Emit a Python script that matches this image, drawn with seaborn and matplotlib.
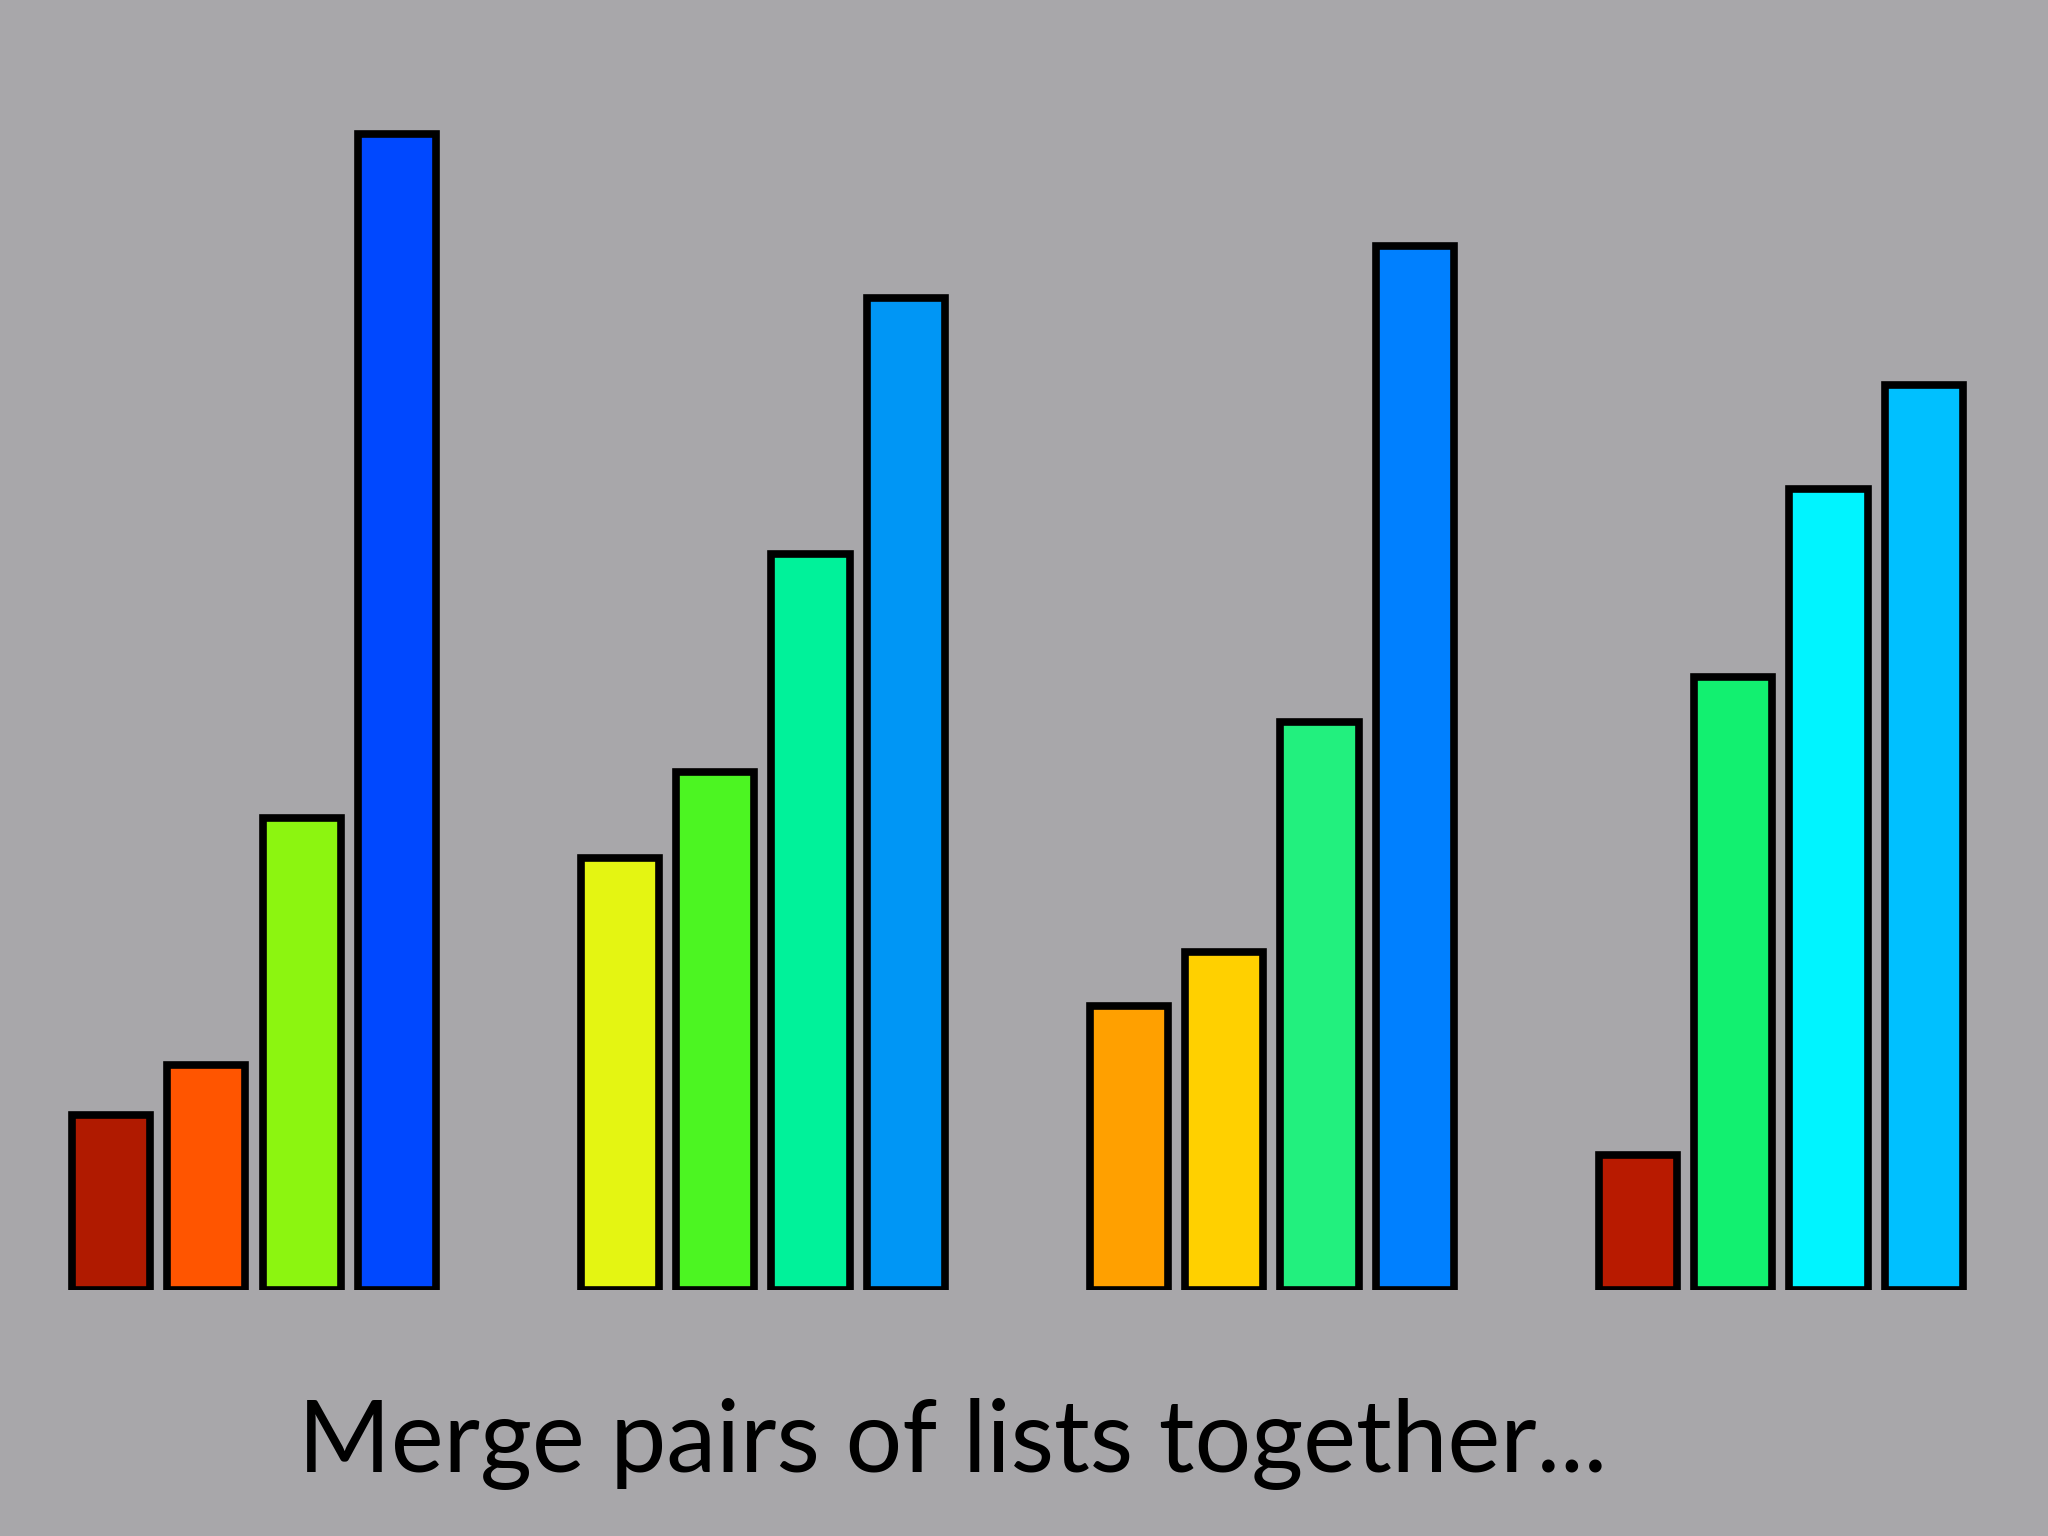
import pandas as pd
import numpy as np
import matplotlib
matplotlib.use("Agg")
import matplotlib.pyplot as plt
import seaborn as sns

# data (bar heights, arbitrary units)
groups = ["A", "B", "C", "D"]
slots = [1, 2, 3, 4]
group_a = [175, 225, 472, 1156]
group_b = [432, 518, 736, 992]
group_c = [284, 338, 568, 1044]
group_d = [135, 613, 801, 905]
caption = "Merge pairs of lists together..."

# one colour per bar, in group order
bar_colors = [
    "#B01A00", "#FF5500", "#8CF510", "#0048FF",
    "#E4F512", "#4CF522", "#00F29A", "#0096F5",
    "#FFA000", "#FFD000", "#22F07E", "#0080FF",
    "#B81A00", "#12F070", "#00F4FF", "#00C0FF",
]

rows = []
for g, vals in zip(groups, [group_a, group_b, group_c, group_d]):
    for s, v in zip(slots, vals):
        rows.append({"group": g, "slot": s, "value": v})
df = pd.DataFrame(rows)

bg = "#A8A7AA"
sns.set_style("white")
fig = plt.figure(figsize=(20.48, 15.36), dpi=100, facecolor=bg)
ax = fig.add_axes([0, 0.16, 1, 0.84])
ax.set_facecolor(bg)

sns.barplot(data=df, x="group", y="value", hue="slot", order=groups,
            width=0.75, gap=0.18, dodge=True, legend=False,
            edgecolor="black", linewidth=5.5, saturation=1, ax=ax)

# recolour bars individually (patches come hue by hue)
patches = [p for p in ax.patches if p.get_height() > 0]
patches = sorted(patches, key=lambda p: p.get_x())
for p, c in zip(patches, bar_colors):
    p.set_facecolor(c)
    p.set_edgecolor("black")
    p.set_joinstyle("miter")

ax.set_xlim(-0.499, 3.525)
ax.set_ylim(0, 1290)
ax.axis("off")

fig.text(0.465, 0.0417, caption, ha="center", va="baseline",
         fontsize=72, family="Lato", color="black")

fig.savefig("out.png", dpi=100, facecolor=bg)
